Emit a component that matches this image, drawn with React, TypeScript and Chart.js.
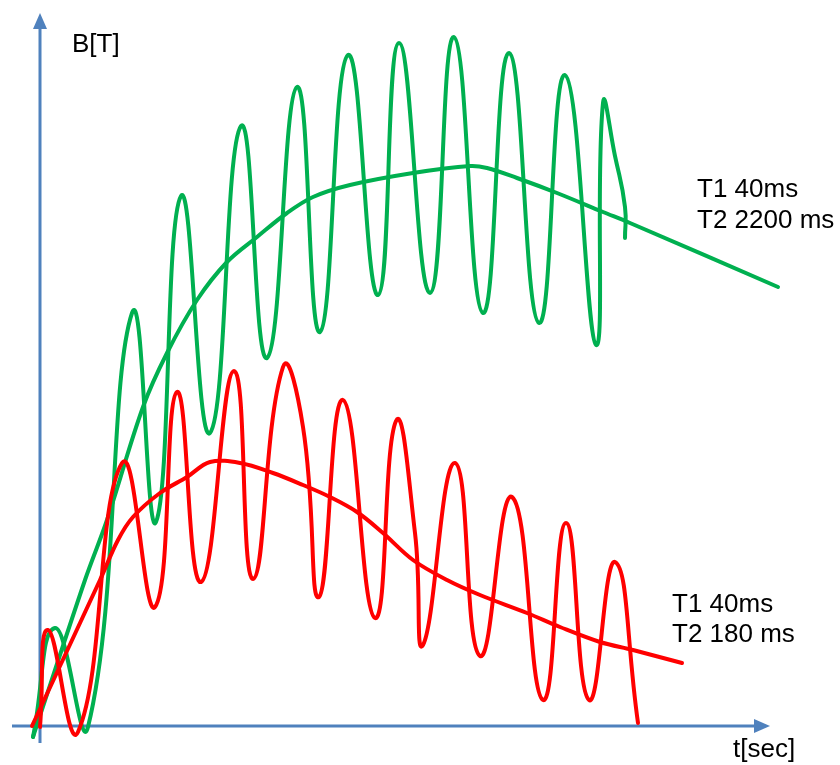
import React, { useEffect, useRef } from "react";
import { Chart, registerables } from "chart.js";

Chart.register(...registerables);

// Time (arbitrary units) and field values (arbitrary units)
const greenWaveT = [-7, 15, 48, 92, 116, 141, 170, 201, 227, 257, 280, 308, 338, 359, 390, 414, 443, 469, 499, 525, 556, 563, 575, 585, 585];
const greenWaveB = [-11, 98, -1, 413, 204, 530, 293, 600, 368, 639, 394, 671, 431, 683, 433, 689, 413, 673, 403, 651, 381, 623, 570, 519, 488];

const greenSmoothT = [-7, 45, 67, 103, 127, 157, 187, 217, 247, 273, 310, 373, 430, 447, 477, 517, 563, 590, 738];
const greenSmoothB = [-11, 146, 206, 319, 373, 426, 464, 489, 513, 529, 541, 553, 560, 558, 548, 533, 514, 503, 439];

const redWaveT = [0, 8, 38, 82, 115, 137, 161, 194, 213, 243, 263, 279, 303, 335, 356, 375, 383, 415, 440, 472, 503, 526, 549, 575, 598];
const redWaveB = [-1, 96, -6, 263, 119, 334, 144, 355, 147, 359, 299, 129, 326, 108, 305, 193, 81, 263, 70, 229, 26, 203, 26, 164, 3];

const redSmoothT = [-8, 60, 78, 93, 120, 147, 170, 200, 233, 263, 290, 317, 343, 373, 407, 440, 487, 520, 560, 593, 642];
const redSmoothB = [0, 146, 186, 209, 233, 249, 264, 263, 253, 241, 229, 214, 193, 166, 146, 131, 113, 99, 84, 76, 63];

const greenLabels = ["T1 40ms", "T2 2200 ms"];
const redLabels = ["T1 40ms", "T2 180 ms"];
const yAxisLabel = "B[T]";
const xAxisLabel = "t[sec]";

const zip = (t: number[], b: number[]) => t.map((x, i) => ({ x, y: b[i] }));

const AXIS_COLOR = "#4F81BD";
const GREEN = "#00B050";
const RED = "#FF0000";
const FONT = "26px 'Liberation Sans', Arial, sans-serif";

const overlayPlugin = {
  id: "sketchOverlay",
  beforeDatasetsDraw(chart: any) {
    const ctx = chart.ctx as CanvasRenderingContext2D;
    const xs = chart.scales.x;
    const ys = chart.scales.y;
    const X = (v: number) => xs.getPixelForValue(v);
    const Y = (v: number) => ys.getPixelForValue(v);
    ctx.save();
    ctx.strokeStyle = AXIS_COLOR;
    ctx.fillStyle = AXIS_COLOR;
    ctx.lineWidth = 3;
    const x0 = X(0);
    ctx.beginPath();
    ctx.moveTo(x0, Y(-17));
    ctx.lineTo(x0, Y(700));
    ctx.stroke();
    const tipY = Y(713);
    ctx.beginPath();
    ctx.moveTo(x0, tipY);
    ctx.lineTo(x0 - 7, tipY + 16);
    ctx.lineTo(x0 + 7, tipY + 16);
    ctx.closePath();
    ctx.fill();
    const y0 = Y(0);
    ctx.beginPath();
    ctx.moveTo(X(-28), y0);
    ctx.lineTo(X(718), y0);
    ctx.stroke();
    const tipX = X(730);
    ctx.beginPath();
    ctx.moveTo(tipX, y0);
    ctx.lineTo(tipX - 16, y0 - 7);
    ctx.lineTo(tipX - 16, y0 + 7);
    ctx.closePath();
    ctx.fill();
    ctx.restore();
  },
  afterDatasetsDraw(chart: any) {
    const ctx = chart.ctx as CanvasRenderingContext2D;
    const xs = chart.scales.x;
    const ys = chart.scales.y;
    const X = (v: number) => xs.getPixelForValue(v);
    const Y = (v: number) => ys.getPixelForValue(v);
    ctx.save();
    ctx.font = FONT;
    ctx.fillStyle = "#000000";
    ctx.textAlign = "left";
    ctx.textBaseline = "alphabetic";
    ctx.fillText(yAxisLabel, X(32), Y(674));
    ctx.fillText(xAxisLabel, X(693), Y(-31));
    ctx.fillText(greenLabels[0], X(657), Y(529));
    ctx.fillText(greenLabels[1], X(657), Y(498));
    ctx.fillText(redLabels[0], X(632), Y(114));
    ctx.fillText(redLabels[1], X(632), Y(84));
    ctx.restore();
  },
};

export default function App() {
  const ref = useRef<HTMLCanvasElement | null>(null);
  useEffect(() => {
    if (!ref.current) return;
    const lineDs = (data: any[], color: string, tension: number) => ({
      data,
      borderColor: color,
      backgroundColor: color,
      borderWidth: 4,
      pointRadius: 0,
      pointHoverRadius: 0,
      tension,
      fill: false,
      borderCapStyle: "round" as const,
      borderJoinStyle: "round" as const,
    });
    const chart = new Chart(ref.current, {
      type: "line",
      data: {
        datasets: [
          lineDs(zip(redSmoothT, redSmoothB), RED, 0.35),
          lineDs(zip(redWaveT, redWaveB), RED, 0.5),
          lineDs(zip(greenSmoothT, greenSmoothB), GREEN, 0.35),
          lineDs(zip(greenWaveT, greenWaveB), GREEN, 0.5),
        ],
      },
      options: {
        animation: false,
        responsive: true,
        maintainAspectRatio: false,
        layout: { padding: 0 },
        events: [],
        plugins: { legend: { display: false }, tooltip: { enabled: false }, title: { display: false } },
        scales: {
          x: { type: "linear", min: -40, max: 800, display: false },
          y: { type: "linear", min: -39, max: 726, display: false },
        },
      },
      plugins: [overlayPlugin],
    });
    return () => chart.destroy();
  }, []);
  return (
    <div style={{ position: "absolute", left: 0, top: 0, width: 840, height: 765, background: "#fff" }}>
      <canvas ref={ref} />
    </div>
  );
}
